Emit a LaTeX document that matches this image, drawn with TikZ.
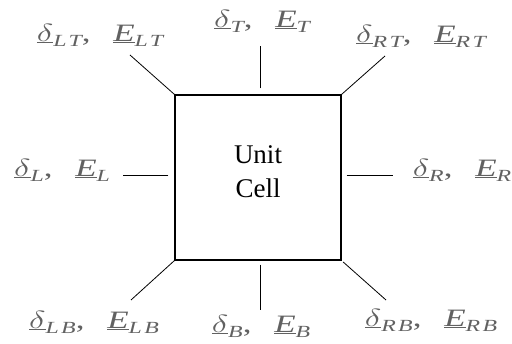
\documentclass[tikz,border=0pt]{standalone}
\usepackage{fontspec}
\setmainfont{Liberation Serif}
\usepackage{tikz}
\usetikzlibrary{positioning}

\newcommand{\sublab}[1]{\raisebox{-0.2em}{\fontsize{17}{17}\selectfont\itshape\addfontfeature{LetterSpace=10}#1}}
\newcommand{\pairlab}[1]{\scalebox{1.4}[1]{\underline{$\delta$}\sublab{#1},\hspace{0.65em}\underline{\itshape E}\sublab{#1}}}

\begin{document}
\begin{tikzpicture}[
    x=1pt,y=-1pt,
    cellbox/.style={draw,line width=1.3pt,minimum width=166pt,minimum height=165pt,inner sep=0pt},
    celltext/.style={align=center,font=\fontsize{27}{34}\selectfont},
    lab/.style={text=black!62,font=\fontsize{25}{28}\selectfont,inner sep=0pt},
    link/.style={line width=0.8pt}
]
\useasboundingbox (0,0) rectangle (512,344);
\node[cellbox,label={[celltext,yshift=6pt]center:{Unit\\Cell}}] (cell) at (258,177.5) {};
% labels round the cell
\node[lab] (lt) at (100,35) {\pairlab{LT}};
\node[lab] (t) at (262,21) {\pairlab{T}};
\node[lab] (rt) at (421,36) {\pairlab{RT}};
\node[lab] (l) at (62,170) {\pairlab{L}};
\node[lab] (r) at (462,170) {\pairlab{R}};
\node[lab] (lb) at (94,322) {\pairlab{LB}};
\node[lab] (b) at (261,326) {\pairlab{B}};
\node[lab] (rb) at (431,320) {\pairlab{RB}};
% free ends of the links
\coordinate (ltend) at (130,55);
\coordinate (tend) at (260,46);
\coordinate (rtend) at (385,56);
\coordinate (lend) at (123,175);
\coordinate (rend) at (393,175);
\coordinate (lbend) at (131,300);
\coordinate (bend) at (260,310);
\coordinate (rbend) at (386,300);
\draw[link] (cell.north west) -- (ltend);
\draw[link,shorten <=6pt] (cell.north -| tend) -- (tend);
\draw[link] (cell.north east) -- (rtend);
\draw[link,shorten <=6pt] (cell.west |- lend) -- (lend);
\draw[link,shorten <=5pt] (cell.east |- rend) -- (rend);
\draw[link] (cell.south west) -- (lbend);
\draw[link,shorten <=4pt] (cell.south -| bend) -- (bend);
\draw[link,shorten <=2pt] (cell.south east) -- (rbend);
\end{tikzpicture}
\end{document}
